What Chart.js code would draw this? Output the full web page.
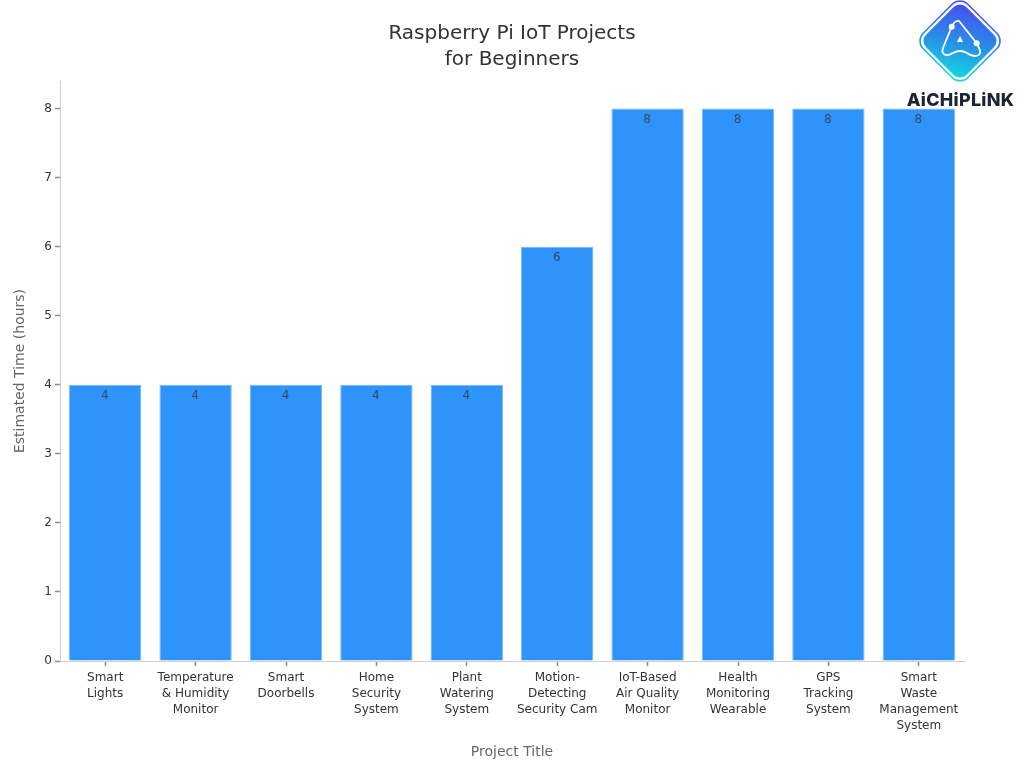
<!DOCTYPE html>
<html><head><meta charset="utf-8">
<style>
html,body{margin:0;padding:0;background:#fff}
#wrap{position:relative;width:1024px;height:768px;overflow:hidden}
#logo{position:absolute;left:915px;top:0;width:90px;height:86px}
#brand{position:absolute;left:880px;top:88px;width:161px;text-align:center;font:800 18px "Inter","DejaVu Sans",sans-serif;color:#1d2438;line-height:24px;letter-spacing:.25px}
</style>
<script src="https://cdn.jsdelivr.net/npm/chart.js@4"></script>
</head><body>
<div id="wrap">
<canvas id="c" width="1024" height="768" style="display:block;width:1024px;height:768px"></canvas>
<svg id="logo" viewBox="0 0 90 86">
<defs><linearGradient id="g" gradientUnits="userSpaceOnUse" x1="22" y1="12" x2="62" y2="76"><stop offset="0" stop-color="#4650ee"/><stop offset="0.5" stop-color="#2a8ce8"/><stop offset="1" stop-color="#12dbe2"/></linearGradient></defs>
<rect x="16.5" y="12.5" width="57" height="57" rx="9" transform="rotate(45 45 41)" fill="url(#g)"/>
<rect x="13.5" y="9.5" width="63" height="63" rx="11" transform="rotate(45 45 41)" fill="none" stroke="url(#g)" stroke-width="1.6"/>
<path d="M36.7 26.7 Q40 20 44 21 L61.7 43.3 L65 50 Q66 56 60 56 Q54 55 52 53 Q45 49 38 53 Q33 56 31 55 Q26 54 28 48 Z" fill="none" stroke="#fff" stroke-width="1.8"/>
<circle cx="36.7" cy="26.7" r="3" fill="#fff"/><circle cx="61.7" cy="43.3" r="3" fill="#fff"/>
<path d="M45 36 L48 42 L42 42 Z" fill="#fff"/>
</svg>
<div id="brand">AiCHiPLiNK</div>
</div>
<script>
const categories = [["Smart","Lights"],["Temperature","& Humidity","Monitor"],["Smart","Doorbells"],["Home","Security","System"],["Plant","Watering","System"],["Motion-","Detecting","Security Cam"],["IoT-Based","Air Quality","Monitor"],["Health","Monitoring","Wearable"],["GPS","Tracking","System"],["Smart","Waste","Management","System"]];
const hours = [4,4,4,4,4,6,8,8,8,8];
const yTicks = [0,1,2,3,4,5,6,7,8];
const FONT = '"DejaVu Sans"';
const valueLabels = {id:'valueLabels',
  afterLayout(ch){ch.titleBlock.left=0;ch.titleBlock.right=1024;},
  afterDatasetsDraw(ch){
    const c=ch.ctx; c.save(); c.font='12px '+FONT; c.fillStyle='#3a4a5a'; c.textAlign='center'; c.textBaseline='middle';
    ch.getDatasetMeta(0).data.forEach((b,i)=>c.fillText(String(hours[i]),b.x-0.5,b.y+11));
    c.restore();
  }};
new Chart(document.getElementById('c'),{
  type:'bar',
  data:{labels:categories,datasets:[{data:hours,backgroundColor:'#2e93fa',borderColor:'#74b4f2',borderWidth:1,barPercentage:0.8,categoryPercentage:1}]},
  plugins:[valueLabels],
  options:{
    responsive:false,animation:false,devicePixelRatio:1,
    layout:{padding:{left:12,right:60,top:21,bottom:7}},
    plugins:{legend:{display:false},tooltip:{enabled:false},
      title:{display:true,text:["Raspberry Pi IoT Projects","for Beginners"],color:'#333',font:{family:FONT,size:20,weight:'normal',lineHeight:1.3},padding:{top:0,bottom:8}}},
    scales:{
      x:{grid:{display:true,offset:false,drawOnChartArea:false,color:'#8a8a8a',tickWidth:1.5,tickLength:5},border:{color:'#d0d0d0'},
        ticks:{color:'#333',font:{family:FONT,size:12,lineHeight:1.33},maxRotation:0,minRotation:0,autoSkip:false,padding:4},
        title:{display:true,text:'Project Title',color:'#666',font:{family:FONT,size:14},padding:{top:0,bottom:0}},
        afterFit(s){s.height=100}},
      y:{min:0,max:8.4,afterBuildTicks(s){s.ticks=yTicks.map(v=>({value:v}))},
        grid:{display:true,drawOnChartArea:false,color:'#8a8a8a',tickWidth:1.5,tickLength:5},border:{color:'#d0d0d0'},
        ticks:{color:'#333',font:{family:FONT,size:12},padding:3},
        title:{display:true,text:'Estimated Time (hours)',color:'#666',font:{family:FONT,size:14},padding:{top:0,bottom:0}},
        afterFit(s){s.width=48}}
    }
  }
});
</script>
</body></html>
